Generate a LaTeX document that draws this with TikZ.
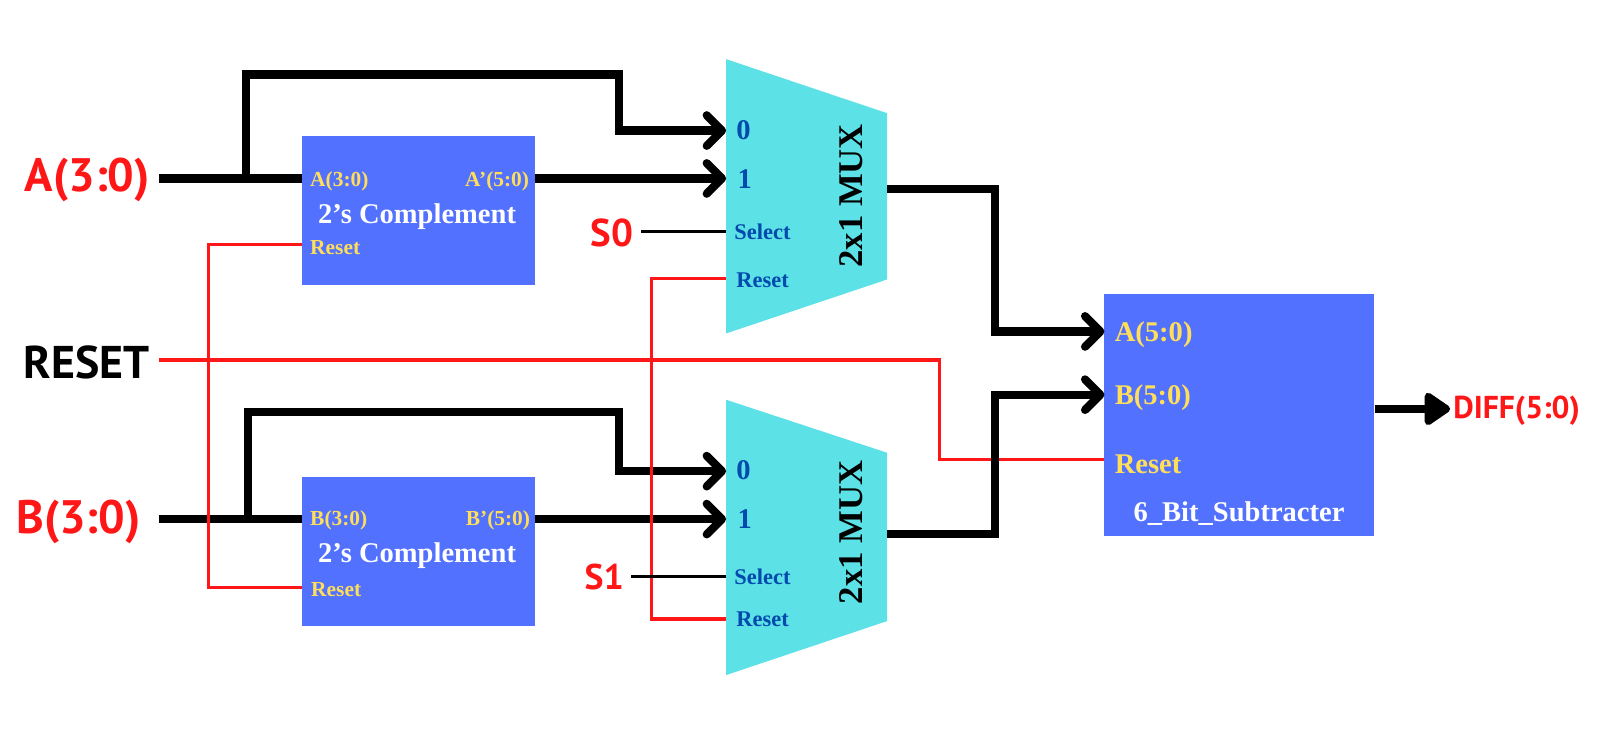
\documentclass[tikz,border=0pt]{standalone}
\usepackage{fontspec}
\setmainfont{Liberation Serif}
\setsansfont{PT Sans}
\usetikzlibrary{arrows.meta}

\definecolor{boxblue}{HTML}{5271FF}
\definecolor{muxcyan}{HTML}{5CE1E6}
\definecolor{sigred}{HTML}{FF1616}
\definecolor{portyellow}{HTML}{FFDE59}
\definecolor{muxtext}{HTML}{004AAD}

\tikzset{
  block/.style={fill=boxblue,inner sep=0pt,minimum width=229pt,minimum height=146pt},
  mux/.style={fill=muxcyan},
  bus/.style={line width=8pt},
  busin/.style={bus,-{Straight Barb[round,length=15pt,width=30pt]}},
  sig/.style={line width=3pt,sigred},
  sel/.style={line width=3pt,black},
  inlabel/.style={font=\sffamily\bfseries\fontsize{46}{50}\selectfont,text=sigred,inner sep=0pt},
  small/.style={font=\bfseries\fontsize{21}{24}\selectfont,text=portyellow,inner sep=0pt,anchor=west},
  title/.style={font=\bfseries\fontsize{28}{30}\selectfont,text=white,inner sep=0pt},
  big/.style={font=\bfseries\fontsize{28}{30}\selectfont,text=portyellow,inner sep=0pt,anchor=west},
  muxport/.style={font=\bfseries\fontsize{22}{24}\selectfont,text=muxtext,inner sep=0pt,anchor=west},
  muxnum/.style={font=\bfseries\fontsize{28}{30}\selectfont,text=muxtext,inner sep=0pt,anchor=west},
  muxname/.style={font=\bfseries\fontsize{34}{36}\selectfont,text=black,inner sep=0pt,rotate=90}
}

\begin{document}
\begin{tikzpicture}[x=1pt,y=-1pt]
  \useasboundingbox (0,0) rectangle (1568,722);

  % BLOCKS
  \node[block] (CompA) at (410.5,206) {};
  \node[block] (CompB) at (410.5,541) {};
  \fill[mux] (712,58) -- (870,111) -- (870,274) -- (712,327) -- cycle;
  \fill[mux] (712,392) -- (870,444) -- (870,609) -- (712,662) -- cycle;
  \node[block,minimum width=264pt,minimum height=238pt] (Sub) at (1215,407) {};

  % INPUTS
  \node[inlabel,anchor=east] (InA) at (147,176) {A(3:0)};
  \node[inlabel,anchor=east] (InB) at (138,512) {B(3:0)};
  \node[inlabel,anchor=east,text=black,font=\sffamily\bfseries\fontsize{45}{50}\selectfont] (InR) at (147,355) {RESET};
  \node[inlabel,anchor=east,font=\sffamily\bfseries\fontsize{38}{40}\selectfont] (InSa) at (621,228) {S0};
  \node[inlabel,anchor=east,font=\sffamily\bfseries\fontsize{35}{40}\selectfont] (InSb) at (612,566) {S1};
  \node[inlabel,anchor=west,font=\sffamily\bfseries\fontsize{31}{33}\selectfont] (Diff) at (1425,403) {DIFF(5:0)};

  % TEXT IN THE BLOCKS
  \node[small] (AinText) at (304,178) {A(3:0)};
  \node[small,anchor=east] (AoutText) at (519,178) {A'(5:0)};
  \node[title] (AcompText) at (409,212) {2's Complement};
  \node[small] (ArstText) at (304,243) {Reset};
  \node[small] (BinText) at (304,510) {B(3:0)};
  \node[small,anchor=east] (BoutText) at (520,510) {B'(5:0)};
  \node[title] (BcompText) at (409,545) {2's Complement};
  \node[small] (BrstText) at (305,578) {Reset};
  \node[big] (SubaText) at (1093,328) {A(5:0)};
  \node[big] (SubbText) at (1093,390) {B(5:0)};
  \node[big] (SubrText) at (1093,455) {Reset};
  \node[title] (SubText) at (1215,504) {6\_Bit\_Subtracter};

  \node[muxnum] (MaZero) at (722,128) {0};
  \node[muxnum] (MaOne) at (723,176) {1};
  \node[muxport] (MaSel) at (720,227) {Select};
  \node[muxport] (MaRst) at (722,275) {Reset};
  \node[muxname] (MaName) at (835,192) {2x1 MUX};
  \node[muxnum] (MbZero) at (722,461) {0};
  \node[muxnum] (MbOne) at (723,509) {1};
  \node[muxport] (MbSel) at (720,566) {Select};
  \node[muxport] (MbRst) at (722,607) {Reset};
  \node[muxname] (MbName) at (835,522) {2x1 MUX};

  % JOINTS
  \coordinate (AwireL) at (156,175);
  \coordinate (Atap) at (241,179);
  \coordinate (Atop) at (241,73);
  \coordinate (Aright) at (607,73);
  \coordinate (AcompIn) at (296,175);
  \coordinate (AcompOut) at (525,175);
  \coordinate (MaIn0) at (712,128);
  \coordinate (MaIn1) at (712,175);
  \coordinate (BwireL) at (156,509);
  \coordinate (Btap) at (243,505);
  \coordinate (Btop) at (243,404);
  \coordinate (Bright) at (607,404);
  \coordinate (BcompIn) at (296,509);
  \coordinate (BcompOut) at (525,509);
  \coordinate (MbIn0) at (712,462);
  \coordinate (MbIn1) at (712,509);
  \coordinate (MaOut) at (870,185);
  \coordinate (MaBend) at (976,325);
  \coordinate (MbOut) at (870,524);
  \coordinate (MbBend) at (976,387);
  \coordinate (SubA) at (1083,325);
  \coordinate (SubB) at (1083,387);
  \coordinate (SubOut) at (1348,401);
  \coordinate (DiffIn) at (1422,401);
  \coordinate (RstL) at (156,353);
  \coordinate (RstBend) at (921,451);
  \coordinate (SubR) at (1083,451);
  \coordinate (CaR) at (296,240);
  \coordinate (CbR) at (296,576);
  \coordinate (RstLeft) at (204,240);
  \coordinate (MaR) at (712,273);
  \coordinate (MbR) at (712,607);
  \coordinate (RstMid) at (639,273);
  \coordinate (SaL) at (629,227);
  \coordinate (SaR) at (712,227);
  \coordinate (SbL) at (619,565);
  \coordinate (SbR) at (712,565);

  % BUSES
  \draw[bus] (AwireL) -- (AcompIn);
  \draw[busin] (Atap) -- (Atop) -- (Aright) |- (MaIn0);
  \draw[busin] (AcompOut) -- (MaIn1);
  \draw[bus] (BwireL) -- (BcompIn);
  \draw[busin] (Btap) -- (Btop) -- (Bright) |- (MbIn0);
  \draw[busin] (BcompOut) -- (MbIn1);
  \draw[bus,-{Triangle[round,length=28pt,width=36pt]}] (SubOut) -- (DiffIn);

  % RED WIRES
  \draw[sig] (RstL) -| (RstBend) -- (SubR);
  \draw[sig] (CaR) -- (RstLeft) |- (CbR);
  \draw[sig] (MaR) -- (RstMid) |- (MbR);

  % MUX OUTPUTS
  \draw[busin] (MaOut) -| (MaBend) -- (SubA);
  \draw[busin] (MbOut) -| (MbBend) -- (SubB);

  % SELECT
  \draw[sel] (SaL) -- (SaR);
  \draw[sel] (SbL) -- (SbR);
\end{tikzpicture}
\end{document}
